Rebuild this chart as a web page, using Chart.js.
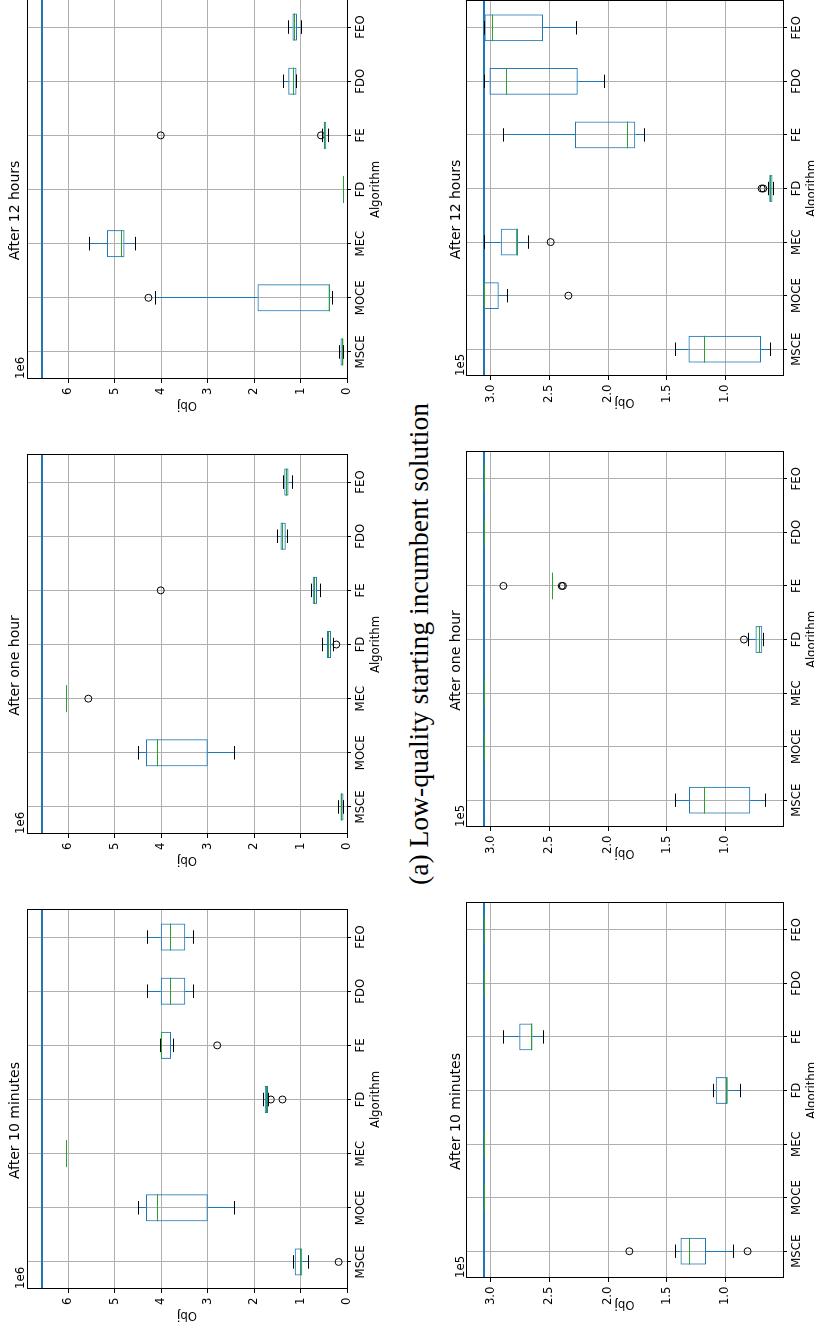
<!DOCTYPE html>
<html>
<head>
<meta charset="utf-8">
<script src="https://cdn.jsdelivr.net/npm/chart.js@4.4.1/dist/chart.umd.min.js"></script>
<style>
  html, body { margin: 0; padding: 0; background: #fff; }
  body { width: 814px; height: 1328px; overflow: hidden; position: relative; }
  #figure {
    position: absolute; left: 0; top: 0; width: 1328px; height: 814px;
    transform-origin: 0 0; transform: translate(0, 1328px) rotate(-90deg);
  }
  #figure canvas, #figure svg { position: absolute; }
</style>
</head>
<body>
<div id="figure">
  <svg id="caption" width="1328" height="814" style="left:0;top:0">
    <text id="captionText" x="443" y="428" textLength="482" lengthAdjust="spacingAndGlyphs"
          font-family="Liberation Serif" font-size="27" fill="#000"></text>
  </svg>
</div>
<script>
const algorithms = ["MSCE", "MOCE", "MEC", "FD", "FE", "FDO", "FEO"];
const panelTitles = ["After 10 minutes", "After one hour", "After 12 hours"];
const figureCaption = "(a) Low-quality starting incumbent solution";

const lowTicks = [0, 1, 2, 3, 4, 5, 6];          // x 1e6
const goodTicks = [1.0, 1.5, 2.0, 2.5, 3.0];     // x 1e5
const lowRef = 6.57;
const goodRef = 3.057;

// box stats per algorithm: [lower whisker, Q1, median, Q3, upper whisker]
const low10Stats = [
  [0.835, 0.965, 1.0, 1.124, 1.16],
  [2.42, 3.0, 4.09, 4.33, 4.49],
  [6.03, 6.03, 6.03, 6.03, 6.03],
  [1.69, 1.70, 1.73, 1.77, 1.79],
  [3.736, 3.787, 3.99, 4.01, 4.017],
  [3.305, 3.485, 3.81, 4.01, 4.29],
  [3.305, 3.485, 3.81, 4.01, 4.29]
];
const low10Fliers = [["MSCE", 0.18], ["FD", 1.64], ["FD", 1.39], ["FE", 2.795]];

const low60Stats = [
  [0.07, 0.075, 0.11, 0.14, 0.18],
  [2.42, 3.0, 4.09, 4.33, 4.49],
  [6.03, 6.03, 6.03, 6.03, 6.03],
  [0.29, 0.345, 0.39, 0.43, 0.52],
  [0.575, 0.647, 0.70, 0.74, 0.77],
  [1.29, 1.32, 1.38, 1.43, 1.495],
  [1.18, 1.26, 1.31, 1.35, 1.365]
];
const low60Fliers = [["MEC", 5.57], ["FD", 0.23], ["FE", 4.01]];

const low720Stats = [
  [0.07, 0.075, 0.10, 0.14, 0.16],
  [0.316, 0.374, 0.38, 1.926, 4.13],
  [4.548, 4.793, 4.85, 5.166, 5.554],
  [0.086, 0.086, 0.086, 0.086, 0.086],
  [0.395, 0.445, 0.474, 0.503, 0.517],
  [1.078, 1.085, 1.15, 1.265, 1.365],
  [0.984, 1.078, 1.135, 1.171, 1.257]
];
const low720Fliers = [["MOCE", 4.275], ["FE", 0.56], ["FE", 4.01]];

const good10Stats = [
  [0.926, 1.165, 1.307, 1.381, 1.423],
  [3.057, 3.057, 3.057, 3.057, 3.057],
  [3.057, 3.057, 3.057, 3.057, 3.057],
  [0.869, 0.98, 0.989, 1.082, 1.102],
  [2.551, 2.645, 2.651, 2.756, 2.892],
  [3.057, 3.057, 3.057, 3.057, 3.057],
  [3.057, 3.057, 3.057, 3.057, 3.057]
];
const good10Fliers = [["MSCE", 1.818], ["MSCE", 0.81]];

const good60Stats = [
  [0.659, 0.787, 1.179, 1.31, 1.423],
  [3.057, 3.057, 3.057, 3.057, 3.057],
  [3.057, 3.057, 3.057, 3.057, 3.057],
  [0.676, 0.685, 0.705, 0.742, 0.801],
  [2.472, 2.472, 2.472, 2.472, 2.472],
  [3.057, 3.057, 3.057, 3.057, 3.057],
  [3.057, 3.057, 3.057, 3.057, 3.057]
];
const good60Fliers = [["FD", 0.841], ["FE", 2.892], ["FE", 2.395], ["FE", 2.385]];

const good720Stats = [
  [0.616, 0.696, 1.176, 1.313, 1.423],
  [2.858, 2.932, 3.057, 3.057, 3.057],
  [2.679, 2.773, 2.773, 2.915, 3.057],
  [0.591, 0.597, 0.614, 0.625, 0.63],
  [1.685, 1.767, 1.832, 2.281, 2.892],
  [2.031, 2.259, 2.866, 3.011, 3.057],
  [2.273, 2.554, 2.983, 3.054, 3.057]
];
const good720Fliers = [["MOCE", 2.338], ["MEC", 2.489], ["FD", 0.690], ["FD", 0.676]];

// layout (original, unrotated figure coordinates)
const YW = 42, RP = 10, TH = 27, XH = 36;
const FONT = "DejaVu Sans";
const BLUE = "#1f77b4", GREEN = "#2ca02c", GRID = "#b0b0b0";
const tickFont = { family: FONT, size: 11.7 };

const rows = [
  { top: 27, height: 320, width: 379, lefts: [39, 494, 949],
    min: 0, max: 6.89, ticks: lowTicks, ref: lowRef, exp: "1e6", digits: 0, expLift: 3,
    titlePad: { top: 6.6, bottom: 3.6 },
    stats: [low10Stats, low60Stats, low720Stats], fliers: [low10Fliers, low60Fliers, low720Fliers] },
  { top: 466, height: 317, width: 375, lefts: [50, 501, 952],
    min: 0.508, max: 3.211, ticks: goodTicks, ref: goodRef, exp: "1e5", digits: 1, expLift: 2.5,
    titlePad: { top: 8.6, bottom: 1.6 },
    stats: [good10Stats, good60Stats, good720Stats], fliers: [good10Fliers, good60Fliers, good720Fliers] }
];

const px = v => Math.round(v - 0.5) + 0.5;

function boxParts(stats, row) {
  return {
    id: "boxParts",
    beforeDatasetsDraw(chart) {
      const { ctx, chartArea: a, scales: { y } } = chart;
      const yy = Math.round(y.getPixelForValue(row.ref));
      ctx.save();
      ctx.strokeStyle = BLUE;
      ctx.lineWidth = 2;
      ctx.beginPath();
      ctx.moveTo(a.left, yy);
      ctx.lineTo(a.right, yy);
      ctx.stroke();
      ctx.restore();
    },
    afterDatasetsDraw(chart) {
      const { ctx, chartArea: a, scales: { x, y } } = chart;
      const step = x.getPixelForValue(1) - x.getPixelForValue(0);
      const seg = (x0, y0, x1, y1, color) => {
        ctx.strokeStyle = color;
        ctx.beginPath();
        ctx.moveTo(x0, y0);
        ctx.lineTo(x1, y1);
        ctx.stroke();
      };
      ctx.save();
      ctx.lineWidth = 1;
      stats.forEach((s, i) => {
        const c = x.getPixelForValue(i);
        const cx = px(c);
        const [lo, q1, med, q3, hi] = s.map(v => y.getPixelForValue(v));
        seg(cx, lo, cx, q1, BLUE);
        seg(cx, q3, cx, hi, BLUE);
        seg(c - step * 0.125, px(lo), c + step * 0.125, px(lo), "#000");
        seg(c - step * 0.125, px(hi), c + step * 0.125, px(hi), "#000");
        seg(c - step * 0.25, px(med), c + step * 0.25, px(med), GREEN);
      });
      ctx.strokeStyle = "#000";
      ctx.strokeRect(px(a.left), px(a.top), px(a.right) - px(a.left), px(a.bottom) - px(a.top));
      ctx.fillStyle = "#000";
      ctx.font = `11.7px ${FONT}`;
      ctx.textAlign = "left";
      ctx.textBaseline = "alphabetic";
      ctx.fillText(row.exp, a.left, a.top - row.expLift);
      ctx.restore();
    }
  };
}

document.getElementById("captionText").textContent = figureCaption;
const fig = document.getElementById("figure");

rows.forEach(row => {
  row.lefts.forEach((left, c) => {
    const canvas = document.createElement("canvas");
    const w = YW + row.width + RP, h = TH + row.height + XH;
    canvas.width = w;
    canvas.height = h;
    canvas.style.left = (left - YW) + "px";
    canvas.style.top = (row.top - TH) + "px";
    canvas.style.width = w + "px";
    canvas.style.height = h + "px";
    fig.appendChild(canvas);

    const stats = row.stats[c];
    const fliers = row.fliers[c];

    new Chart(canvas.getContext("2d"), {
      type: "bar",
      data: {
        labels: algorithms,
        datasets: [
          {
            type: "bar",
            data: stats.map(s => [s[1], s[3]]),
            backgroundColor: "rgba(0,0,0,0)",
            borderColor: BLUE,
            borderWidth: 1,
            borderSkipped: false,
            barPercentage: 0.5,
            categoryPercentage: 1
          },
          {
            type: "line",
            data: fliers.map(([a, v]) => ({ x: a, y: v })),
            showLine: false,
            pointStyle: "circle",
            pointRadius: 3.5,
            pointHoverRadius: 3.5,
            pointBorderColor: "#000",
            pointBackgroundColor: "rgba(0,0,0,0)",
            pointBorderWidth: 1
          }
        ]
      },
      options: {
        responsive: false,
        animation: false,
        devicePixelRatio: 1,
        events: [],
        layout: { padding: { left: 0, right: RP, top: 0, bottom: 0 } },
        plugins: {
          legend: { display: false },
          tooltip: { enabled: false },
          title: {
            display: true,
            text: panelTitles[c],
            color: "#000",
            font: { family: FONT, size: 14, weight: "normal", lineHeight: 1.2 },
            padding: row.titlePad
          }
        },
        scales: {
          x: {
            offset: true,
            grid: { offset: false, color: GRID, tickColor: "#000", tickLength: 4, lineWidth: 1 },
            border: { color: "#000", width: 1 },
            ticks: { color: "#000", font: tickFont, maxRotation: 0, autoSkip: false, padding: 3 },
            title: { display: true, text: "Algorithm", color: "#000", font: tickFont, padding: { top: 0, bottom: 0 } },
            afterFit: s => { s.height = XH; }
          },
          y: {
            min: row.min,
            max: row.max,
            grid: { color: GRID, tickColor: "#000", tickLength: 4, lineWidth: 1 },
            border: { color: "#000", width: 1 },
            ticks: { color: "#000", font: tickFont, padding: 4.5, callback: v => Number(v).toFixed(row.digits) },
            afterBuildTicks: s => { s.ticks = row.ticks.map(v => ({ value: v })); },
            title: { display: true, text: "Obj", color: "#000", font: tickFont, padding: { top: 9, bottom: 0 } },
            afterFit: s => { s.width = YW; }
          }
        }
      },
      plugins: [boxParts(stats, row)]
    });
  });
});
</script>
</body>
</html>
